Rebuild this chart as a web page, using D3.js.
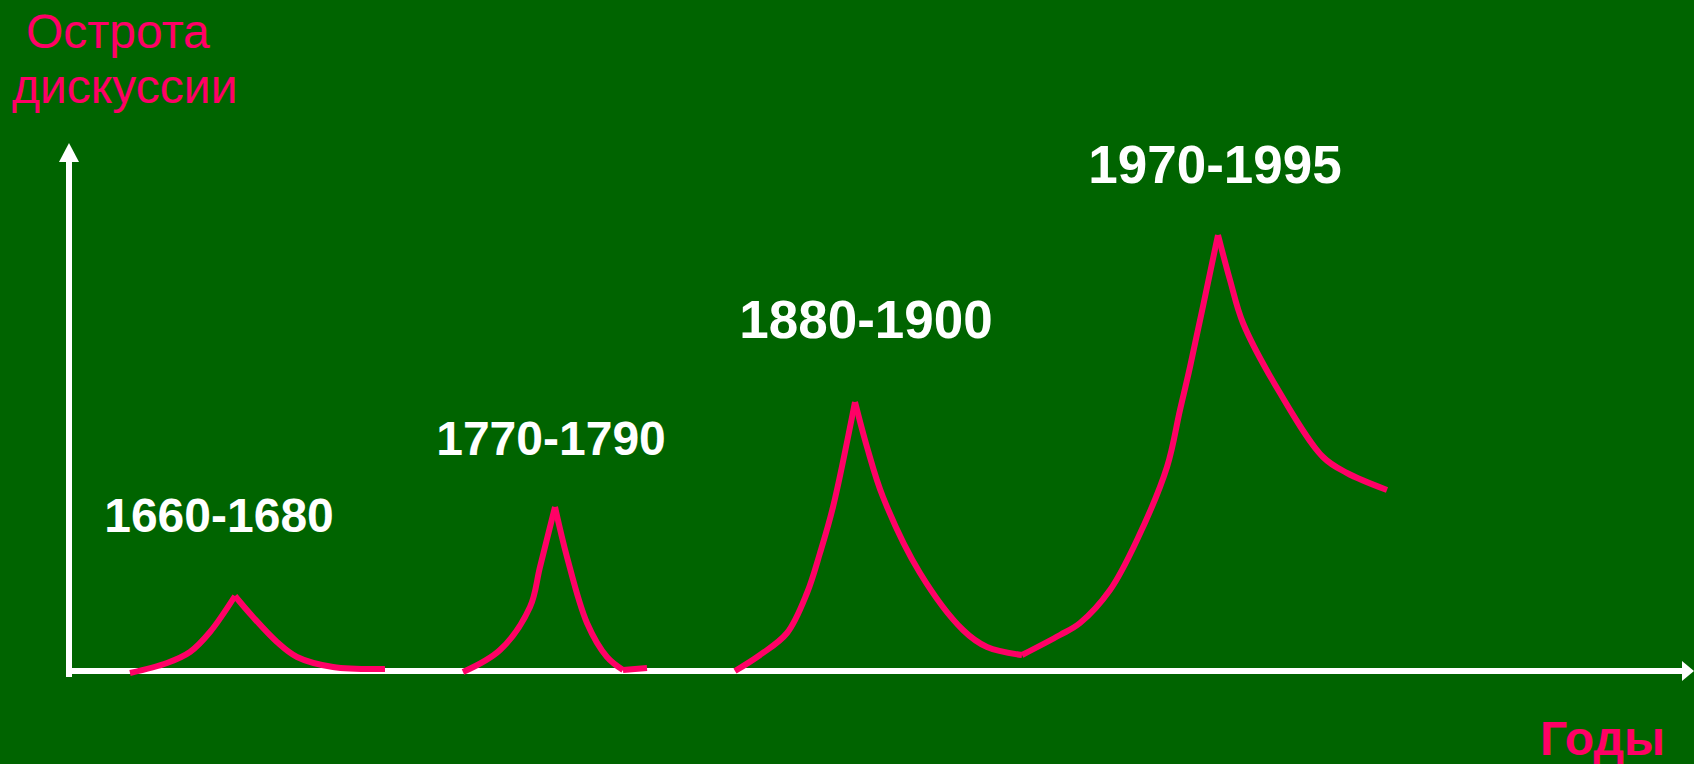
<!DOCTYPE html>
<html>
<head>
<meta charset="utf-8">
<script src="https://cdn.jsdelivr.net/npm/d3@7"></script>
<style>
  html, body { margin: 0; padding: 0; background: #006400; }
  svg { display: block; }
</style>
</head>
<body>
<svg width="1694" height="764"></svg>
<script>
// волны дискуссии: [время (усл. ед.), острота (усл. ед.)]
const wave1 = [[6.1, -0.4], [9.8, 1.6], [12.1, 3.8], [14.1, 7.8], [16.6, 15],
  [18.4, 10.8], [20.8, 5.8], [22.8, 2.8], [26.4, 0.8], [31.6, 0.4]];
const wave2 = [[39.4, -0.2], [43.1, 4.2], [46.1, 12.8], [47.1, 20.8], [48.6, 32.8],
  [49.8, 22.8], [51.8, 9.6], [53.8, 2.8], [55.4, 0.2], [57.8, 0.6]];
const wave3 = [[66.6, 0], [69.1, 3.2], [71.8, 7.6], [73.8, 15.6], [75.1, 23.6],
  [76.4, 32.8], [78.6, 53.8], [79.8, 44.8], [81.4, 34.8], [85.1, 19.6],
  [89.4, 8.2], [91.8, 4.8], [95.3, 3.2], [99.1, 7.2], [101.1, 9.6],
  [104.1, 16.2], [106.8, 26.2], [109.8, 40.8], [111.1, 52.2], [112.1, 60.8],
  [114.9, 87.2], [116.1, 78.2], [117.4, 69.6], [121.1, 55.6], [125.4, 42.8],
  [127.8, 39.6], [131.8, 36.2]];
const waves = [wave1, wave2, wave3];

// подписи периодов и точки их привязки (центр, базовая линия)
const periods = ["1660-1680", "1770-1790", "1880-1900", "1970-1995"];
const periodX = [15.0, 48.2, 79.7, 114.6];
const periodY = [27.8, 43.2, 66.6, 97.6];

const yTitle = ["Острота", "дискуссии"];
const xTitle = "Годы";

const pink = "#ff0066";
const font = "'Liberation Sans', Arial, sans-serif";
const svg = d3.select("svg");

const scX = d3.scaleLinear().domain([0, 162.5]).range([69, 1694]);
const scY = d3.scaleLinear().domain([0, 100]).range([671, 171]);

// оси со стрелками
svg.append("line")
  .attr("x1", scX(0)).attr("x2", scX(0))
  .attr("y1", scY(-1.2)).attr("y2", scY(102))
  .attr("stroke", "white").attr("stroke-width", 6);
svg.append("path")
  .attr("d", `M${scX(0)},${scY(105.6)} L${scX(0) - 10},${scY(101.8)} L${scX(0) + 10},${scY(101.8)} Z`)
  .attr("fill", "white");
svg.append("line")
  .attr("x1", scX(-0.3)).attr("x2", scX(161.5))
  .attr("y1", scY(0)).attr("y2", scY(0))
  .attr("stroke", "white").attr("stroke-width", 6);
svg.append("path")
  .attr("d", `M${scX(162.5)},${scY(0)} L${scX(161.3)},${scY(0) - 10} L${scX(161.3)},${scY(0) + 10} Z`)
  .attr("fill", "white");

// делим кривую в точках экстремума, чтобы пики оставались острыми
function splitAtExtrema(pts) {
  const parts = [];
  let cur = [pts[0]];
  for (let i = 1; i < pts.length; i++) {
    cur.push(pts[i]);
    if (i < pts.length - 1) {
      const a = pts[i][1] - pts[i - 1][1];
      const b = pts[i + 1][1] - pts[i][1];
      if (a * b < 0) {
        parts.push(cur);
        cur = [pts[i]];
      }
    }
  }
  parts.push(cur);
  return parts;
}

const line = d3.line()
  .x(d => scX(d[0]))
  .y(d => scY(d[1]))
  .curve(d3.curveCatmullRom.alpha(0.5));

waves.forEach(w => {
  svg.append("g")
    .selectAll("path")
    .data(splitAtExtrema(w))
    .enter()
    .append("path")
    .attr("d", line)
    .attr("fill", "none")
    .attr("stroke", pink)
    .attr("stroke-width", 6)
    .attr("stroke-linecap", "butt");
});

svg.selectAll(".period")
  .data(periods)
  .enter()
  .append("text")
  .attr("class", "period")
  .attr("x", (d, i) => scX(periodX[i]))
  .attr("y", (d, i) => scY(periodY[i]))
  .attr("text-anchor", "middle")
  .style("font-family", font)
  .style("font-weight", "bold")
  .style("font-size", (d, i) => i < 2 ? "48px" : "53px")
  .style("fill", "white")
  .text(d => d);

svg.selectAll(".ytitle")
  .data(yTitle)
  .enter()
  .append("text")
  .attr("class", "ytitle")
  .attr("x", (d, i) => i === 0 ? 26 : 12)
  .attr("y", (d, i) => 48 + i * 55)
  .style("font-family", font)
  .style("font-size", "48px")
  .style("fill", pink)
  .text(d => d);

svg.append("text")
  .attr("x", 1540)
  .attr("y", 755)
  .style("font-family", font)
  .style("font-weight", "bold")
  .style("font-size", "48px")
  .style("fill", pink)
  .text(xTitle);
</script>
</body>
</html>
